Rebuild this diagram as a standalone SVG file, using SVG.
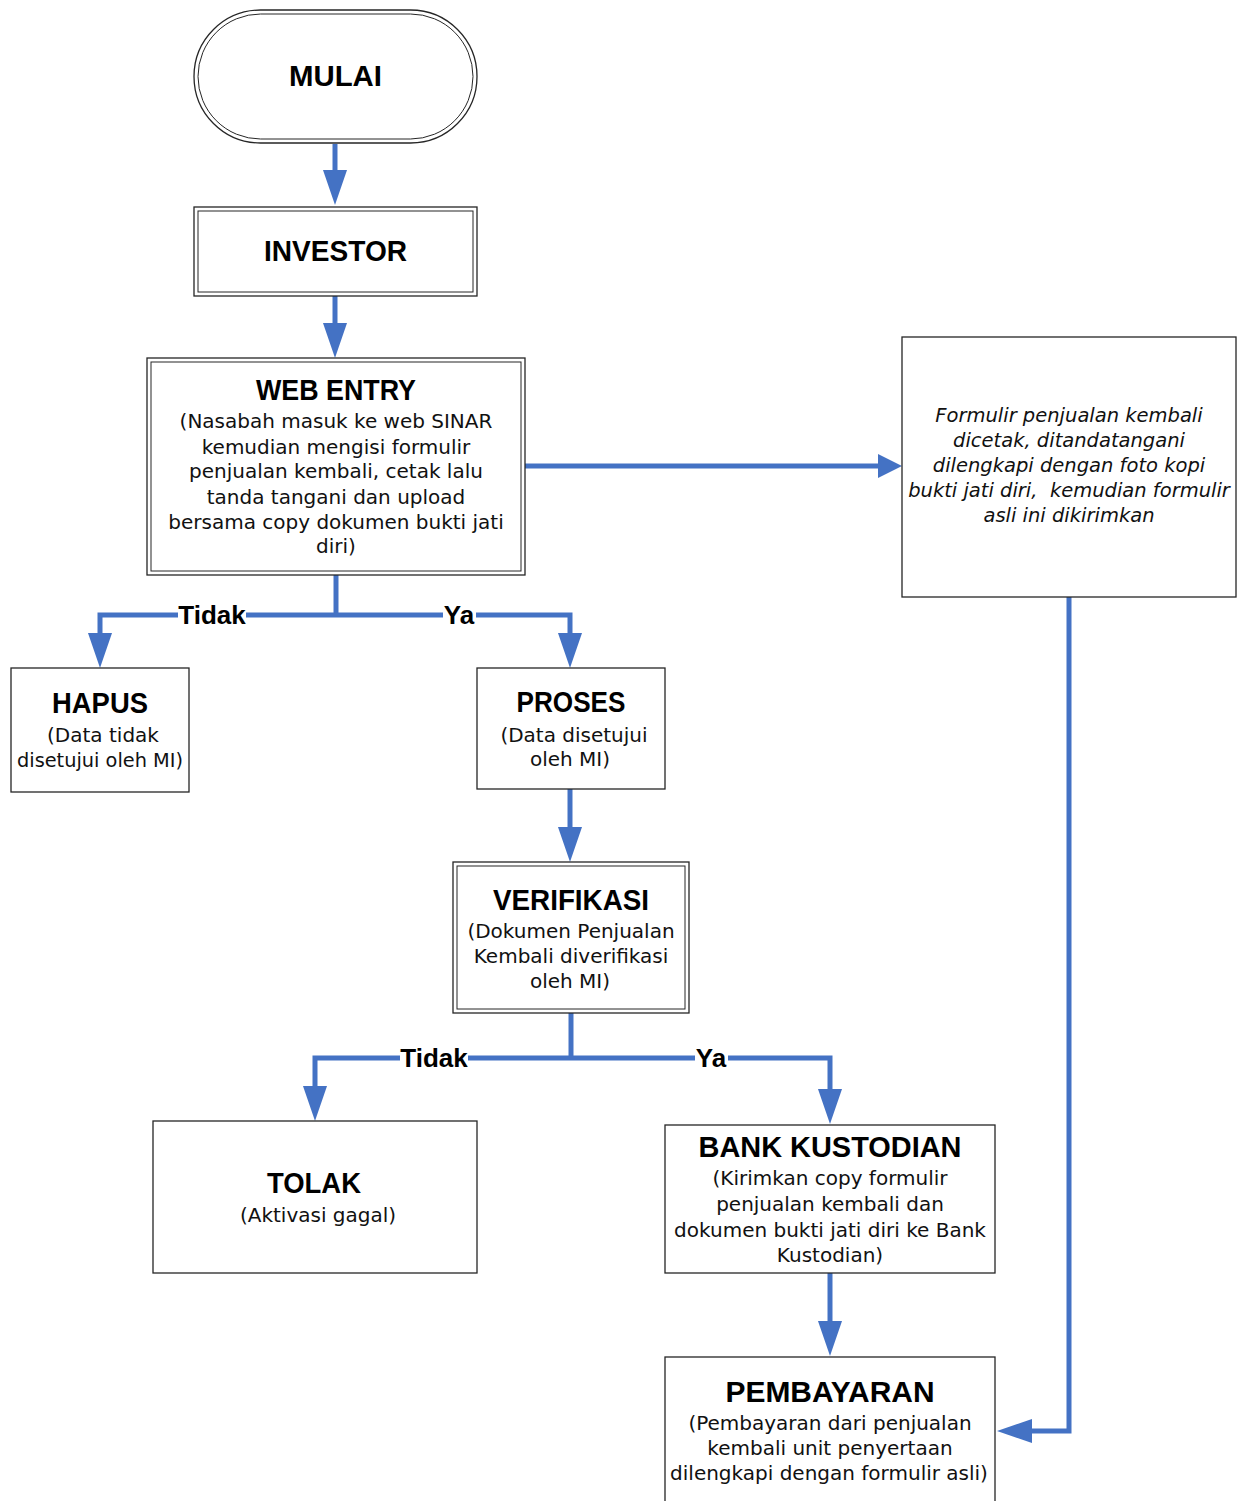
<svg xmlns="http://www.w3.org/2000/svg" width="1241" height="1501" viewBox="0 0 1241 1501">
<style>
.box{fill:#fff;stroke:#262626;stroke-width:1.3}
.in{fill:none;stroke:#262626;stroke-width:1}
.t{font-family:"Liberation Sans",Arial,sans-serif;font-weight:bold;font-size:29px;text-anchor:middle;fill:#000}
.b{font-family:"DejaVu Sans",sans-serif;font-size:20px;text-anchor:middle;fill:#111}
.i{font-family:"DejaVu Sans",sans-serif;font-style:italic;font-size:19.5px;text-anchor:middle;fill:#111}
.c{fill:none;stroke:#4472C4;stroke-width:5;stroke-linejoin:miter}
.lbl{font-family:"Liberation Sans",Arial,sans-serif;font-weight:bold;font-size:26px;text-anchor:middle;fill:#000}
</style>
<defs>
<marker id="ah" markerUnits="userSpaceOnUse" markerWidth="36" markerHeight="24" refX="0" refY="12" orient="auto" viewBox="0 0 36 24"><path d="M0,0 L35,12 L0,24 z" fill="#4472C4"/></marker>
<marker id="ahs" markerUnits="userSpaceOnUse" markerWidth="25" markerHeight="24" refX="0" refY="12" orient="auto" viewBox="0 0 25 24"><path d="M0,0 L24,12 L0,24 z" fill="#4472C4"/></marker>
</defs>
<rect width="1241" height="1501" fill="#fff"/>

<g id="connectors">
<path class="c" d="M335,144 V170" marker-end="url(#ah)"/>
<path class="c" d="M335,296 V323" marker-end="url(#ah)"/>
<path class="c" d="M525,466 H878" marker-end="url(#ahs)"/>
<path class="c" d="M336,575 V615"/>
<path class="c" d="M336,615 H100 V633" marker-end="url(#ah)"/>
<path class="c" d="M336,615 H570 V633" marker-end="url(#ah)"/>
<path class="c" d="M570,789 V827" marker-end="url(#ah)"/>
<path class="c" d="M571,1013 V1058"/>
<path class="c" d="M571,1058 H315 V1086" marker-end="url(#ah)"/>
<path class="c" d="M571,1058 H830 V1089" marker-end="url(#ah)"/>
<path class="c" d="M830,1273 V1321" marker-end="url(#ah)"/>
<path class="c" d="M1069,597 V1431 H1032" marker-end="url(#ah)"/>
<rect x="178" y="602" width="68" height="26" fill="#fff"/>
<text class="lbl" x="212" y="624">Tidak</text>
<rect x="443" y="602" width="33" height="26" fill="#fff"/>
<text class="lbl" x="459" y="624">Ya</text>
<rect x="400" y="1045" width="68" height="26" fill="#fff"/>
<text class="lbl" x="434" y="1067">Tidak</text>
<rect x="695" y="1045" width="33" height="26" fill="#fff"/>
<text class="lbl" x="711" y="1067">Ya</text>
</g>

<g id="mulai">
<rect class="box" x="194" y="10" width="283" height="133" rx="66.5"/>
<rect class="in" x="198" y="14" width="275" height="125" rx="62.5"/>
<text class="t" x="335.5" y="86" textLength="93" lengthAdjust="spacingAndGlyphs">MULAI</text>
</g>

<g id="investor">
<rect class="box" x="194" y="207" width="283" height="89"/>
<rect class="in" x="198" y="211" width="275" height="81"/>
<text class="t" x="335.5" y="261" textLength="143" lengthAdjust="spacingAndGlyphs">INVESTOR</text>
</g>

<g id="web-entry">
<rect class="box" x="147" y="358" width="378" height="217"/>
<rect class="in" x="151" y="362" width="370" height="209"/>
<text class="t" x="336" y="400" textLength="160" lengthAdjust="spacingAndGlyphs">WEB ENTRY</text>
<text class="b" x="336" y="428">(Nasabah masuk ke web SINAR</text>
<text class="b" x="336" y="454">kemudian mengisi formulir</text>
<text class="b" x="336" y="478">penjualan kembali, cetak lalu</text>
<text class="b" x="336" y="504">tanda tangani dan upload</text>
<text class="b" x="336" y="529">bersama copy dokumen bukti jati</text>
<text class="b" x="336" y="553">diri)</text>
</g>

<g id="formulir">
<rect class="box" x="902" y="337" width="334" height="260"/>
<text class="i" x="1069" y="422">Formulir penjualan kembali</text>
<text class="i" x="1069" y="447">dicetak, ditandatangani</text>
<text class="i" x="1069" y="472">dilengkapi dengan foto kopi</text>
<text class="i" x="1069" y="497" xml:space="preserve">bukti jati diri,  kemudian formulir</text>
<text class="i" x="1069" y="522">asli ini dikirimkan</text>
</g>

<g id="hapus">
<rect class="box" x="11" y="668" width="178" height="124"/>
<text class="t" x="100" y="713" textLength="96" lengthAdjust="spacingAndGlyphs">HAPUS</text>
<text class="b" x="103" y="742">(Data tidak</text>
<text class="b" x="100" y="767" textLength="166" lengthAdjust="spacingAndGlyphs">disetujui oleh MI)</text>
</g>

<g id="proses">
<rect class="box" x="477" y="668" width="188" height="121"/>
<text class="t" x="571" y="712" textLength="109" lengthAdjust="spacingAndGlyphs">PROSES</text>
<text class="b" x="574" y="742">(Data disetujui</text>
<text class="b" x="570" y="766">oleh MI)</text>
</g>

<g id="verifikasi">
<rect class="box" x="453" y="862" width="236" height="151"/>
<rect class="in" x="457" y="866" width="228" height="143"/>
<text class="t" x="571" y="910" textLength="156" lengthAdjust="spacingAndGlyphs">VERIFIKASI</text>
<text class="b" x="571" y="938">(Dokumen Penjualan</text>
<text class="b" x="571" y="963">Kembali diverifikasi</text>
<text class="b" x="570" y="988">oleh MI)</text>
</g>

<g id="tolak">
<rect class="box" x="153" y="1121" width="324" height="152"/>
<text class="t" x="314" y="1193" textLength="94" lengthAdjust="spacingAndGlyphs">TOLAK</text>
<text class="b" x="318" y="1222">(Aktivasi gagal)</text>
</g>

<g id="bank-kustodian">
<rect class="box" x="665" y="1125" width="330" height="148"/>
<text class="t" x="830" y="1157" textLength="263" lengthAdjust="spacingAndGlyphs">BANK KUSTODIAN</text>
<text class="b" x="830" y="1185">(Kirimkan copy formulir</text>
<text class="b" x="830" y="1211">penjualan kembali dan</text>
<text class="b" x="830" y="1237">dokumen bukti jati diri ke Bank</text>
<text class="b" x="830" y="1262">Kustodian)</text>
</g>

<g id="pembayaran">
<rect class="box" x="665" y="1357" width="330" height="150"/>
<text class="t" x="830" y="1402" textLength="209" lengthAdjust="spacingAndGlyphs">PEMBAYARAN</text>
<text class="b" x="830" y="1430">(Pembayaran dari penjualan</text>
<text class="b" x="830" y="1455">kembali unit penyertaan</text>
<text class="b" x="829" y="1480">dilengkapi dengan formulir asli)</text>
</g>
</svg>
